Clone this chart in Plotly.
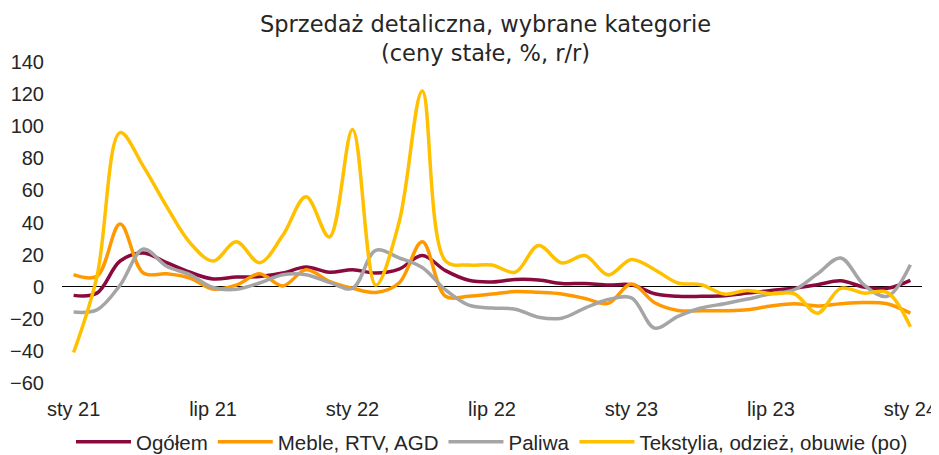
import plotly.graph_objects as go

months_pl = ["sty", "lut", "mar", "kwi", "maj", "cze", "lip", "sie", "wrz", "paź", "lis", "gru"]
categories = [f"{m} {y}" for y in (21, 22, 23) for m in months_pl] + ["sty 24"]
tick_labels = ["sty 21", "lip 21", "sty 22", "lip 22", "sty 23", "lip 23", "sty 24"]

ogolem = [-5.4, -4, 16, 21, 15, 9, 4.8, 6, 6.3, 8.5, 12.3, 9,
          10.6, 8.5, 11, 19.4, 10, 4, 3, 4.5, 4.2, 2, 2, 1,
          1.2, -4.4, -6, -6, -5.6, -4, -2.3, -1, 1.2, 3.7, -0.2, -1, 4]
meble = [7.5, 6.5, 39, 8.5, 8, 5.4, -1.5, 1, 8, 0.5, 10.5, 3.3,
         -1, -3.6, 2.3, 28, -6, -6, -4.6, -3, -3.5, -4.5, -7.3, -10.4,
         1.7, -10, -14.8, -15, -15, -14.4, -12, -10.6, -12, -10.6, -9.8, -10.6, -16.5]
paliwa = [-15.8, -14.4, 1, 23.5, 12.7, 7.5, -0.5, -1.6, 2.3, 7.5, 7.5, 2.7,
          -1, 22.7, 18, 12, -2, -11.5, -13.3, -14, -19, -19.6, -13.3, -8,
          -7, -25.8, -18.5, -13.3, -10.6, -7.7, -4.4, -1.9, 8, 17.9, 1.2, -6, 13.7]
tekstylia = [-41, 6, 96, 75, 50, 27.5, 16, 28, 15, 32, 56, 31,
             98, 1, 40, 122, 16, 13.5, 13.5, 9, 25.6, 14.8, 19.4, 7.3,
             17, 10.6, 2.3, 1.2, -4.6, -2.3, -4.4, -4.4, -16.5, -1, -4, -3.5, -25]

series = [
    ("Ogółem", ogolem, "#8B0A3E"),
    ("Meble, RTV, AGD", meble, "#FF9900"),
    ("Paliwa", paliwa, "#A5A5A5"),
    ("Tekstylia, odzież, obuwie (po)", tekstylia, "#FFC000"),
]

fig = go.Figure()
for name, vals, col in series:
    fig.add_trace(go.Scatter(
        x=categories, y=vals, name=name, mode="lines",
        line=dict(color=col, width=3.5, shape="spline", smoothing=1.0),
    ))

tick_font = dict(family="Liberation Sans, Arial, sans-serif", size=20, color="#262626")
legend_font = dict(family="Liberation Sans, Arial, sans-serif", size=20.5, color="#262626")

# page body has an 8px margin, so the figure is drawn 8px smaller and offset
fig.update_layout(
    width=931, height=447,
    margin=dict(l=54, r=17, t=54, b=72, autoexpand=False),
    paper_bgcolor="white", plot_bgcolor="white",
    xaxis=dict(
        type="category", categoryorder="array", categoryarray=categories,
        range=[-0.5, 36.5], tickmode="array", tickvals=tick_labels, ticktext=tick_labels,
        showgrid=False, zeroline=False, showline=False, ticks="",
        tickfont=tick_font, ticklabelstandoff=12, automargin=False,
    ),
    yaxis=dict(
        range=[-60, 140], dtick=20, tick0=0,
        showgrid=False, zeroline=True, zerolinecolor="#000000", zerolinewidth=1,
        showline=False, ticks="", tickfont=tick_font, ticklabelstandoff=17, automargin=False,
    ),
    legend=dict(
        orientation="h", x=0.5, xanchor="center",
        yref="container", y=1 - 434 / 447, yanchor="middle",
        font=legend_font, tracegroupgap=0, itemwidth=55,
    ),
    showlegend=True,
    annotations=[dict(
        text="Sprzedaż detaliczna, wybrane kategorie<br>(ceny stałe, %, r/r)",
        xref="paper", yref="paper", x=(485 - 62) / 860, xanchor="center",
        y=(383 - 9) / 321, yanchor="top", showarrow=False,
        font=dict(family="DejaVu Sans, Verdana, sans-serif", size=22.5, color="#262626"),
    )],
)

fig.write_html("out.html")
